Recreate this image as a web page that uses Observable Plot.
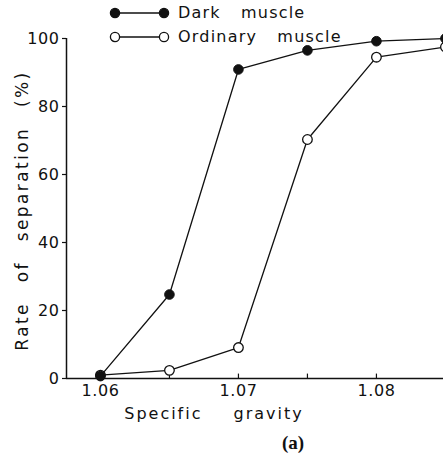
<!DOCTYPE html>
<html>
<head>
<meta charset="utf-8">
<script src="https://cdn.jsdelivr.net/npm/d3@7"></script>
<script src="https://cdn.jsdelivr.net/npm/@observablehq/plot@0.6"></script>
<style>
  html, body { margin: 0; padding: 0; background: #fff; overflow: hidden; }
  #wrap { position: relative; width: 443px; height: 464px; }
  #legend { position: absolute; left: 0; top: 0; font-family: "DejaVu Sans", sans-serif; font-size: 16px; color: #111; }
  .row { position: absolute; left: 108px; white-space: nowrap; height: 20px; }
  .row svg { position: absolute; left: 0; top: 0; }
  .row span { position: absolute; left: 70px; top: 0; line-height: 20px; word-spacing: 14px; letter-spacing: 1.2px; }
</style>
</head>
<body>
<div id="wrap"></div>
<script>
// Data
const gravity = [1.06, 1.065, 1.07, 1.075, 1.08, 1.085];
const darkMuscle = [0.7, 24.7, 90.9, 96.5, 99.2, 100];
const ordinaryMuscle = [1, 2.4, 9.1, 70.3, 94.5, 97.5];
const seriesNames = ["Dark muscle", "Ordinary muscle"];
const xTickLabels = [1.06, 1.07, 1.08];
const xMinorTicks = [1.06, 1.065, 1.07, 1.075, 1.08];
const yTicks = [0, 20, 40, 60, 80, 100];
const xLabel = "Specific gravity";
const yLabel = "Rate of separation (%)";
const panelLabel = "(a)";

const dark = gravity.map((g, i) => ({g, v: darkMuscle[i]}));
const ordinary = gravity.map((g, i) => ({g, v: ordinaryMuscle[i]}));

const xDomain = [1.05754, 1.08486];

const chart = Plot.plot({
  width: 443,
  height: 464,
  marginTop: 38,
  marginBottom: 86,
  marginLeft: 66,
  marginRight: 0,
  style: {fontFamily: "DejaVu Sans, sans-serif", fontSize: "16px", color: "#111", background: "white", overflow: "hidden"},
  x: {domain: xDomain},
  y: {domain: [0, 100]},
  marks: [
    Plot.axisX({ticks: xTickLabels, tickFormat: d3.format(".2f"), tickSize: 0, tickPadding: 6, label: null, fontSize: 16}),
    Plot.axisY({ticks: yTicks, tickSize: 4, tickPadding: 3, label: null, fontSize: 16, strokeWidth: 1.2}),
    Plot.ruleX(xMinorTicks, {y1: 0, y2: 1.3, strokeWidth: 1.2}),
    Plot.ruleY([0], {strokeWidth: 1.5}),
    Plot.ruleX([xDomain[0]], {strokeWidth: 1.5}),
    Plot.line(ordinary, {x: "g", y: "v", stroke: "#111", strokeWidth: 1.3}),
    Plot.line(dark, {x: "g", y: "v", stroke: "#111", strokeWidth: 1.3}),
    Plot.dot(ordinary, {x: "g", y: "v", r: 4.8, fill: "white", stroke: "#111", strokeWidth: 1.3}),
    Plot.dot(dark, {x: "g", y: "v", r: 4.8, fill: "#111", stroke: "#111", strokeWidth: 1}),
    Plot.text([yLabel], {frameAnchor: "left", textAnchor: "middle", rotate: -90, dx: -44, dy: 2, fontSize: 17, fill: "#111"}),
    Plot.text([xLabel], {frameAnchor: "bottom", textAnchor: "middle", dx: -41, dy: 40, fontSize: 16, fill: "#111"}),
    Plot.text([panelLabel], {frameAnchor: "bottom", textAnchor: "middle", dx: 38, dy: 70, fontSize: 19, fontWeight: "bold", fontFamily: "Liberation Serif, serif", fill: "#111"})
  ]
});

// Letter / word spacing to match the typewriter-like lettering
d3.select(chart).selectAll("text").each(function() {
  const t = this.textContent;
  if (t === xLabel) d3.select(this).style("letter-spacing", "2px").style("word-spacing", "24px");
  else if (t === yLabel) d3.select(this).style("letter-spacing", "2.4px").style("word-spacing", "12px");
});
d3.select(chart).selectAll('g[aria-label="x-axis tick label"] text, g[aria-label="y-axis tick label"] text')
  .style("letter-spacing", "0.6px");

document.getElementById("wrap").appendChild(chart);

// Legend
const legend = document.createElement("div");
legend.id = "legend";
const rowsY = [3, 27];
seriesNames.forEach((name, i) => {
  const row = document.createElement("div");
  row.className = "row";
  row.style.top = rowsY[i] + "px";
  const filled = i === 0;
  row.innerHTML = `<svg width="66" height="20">
    <line x1="7" y1="10" x2="56" y2="10" stroke="#111" stroke-width="1.3"/>
    <circle cx="7" cy="10" r="4.6" fill="${filled ? '#111' : 'white'}" stroke="#111" stroke-width="1.3"/>
    <circle cx="56" cy="10" r="4.6" fill="${filled ? '#111' : 'white'}" stroke="#111" stroke-width="1.3"/>
  </svg><span>${name}</span>`;
  legend.appendChild(row);
});
document.getElementById("wrap").appendChild(legend);
</script>
</body>
</html>
